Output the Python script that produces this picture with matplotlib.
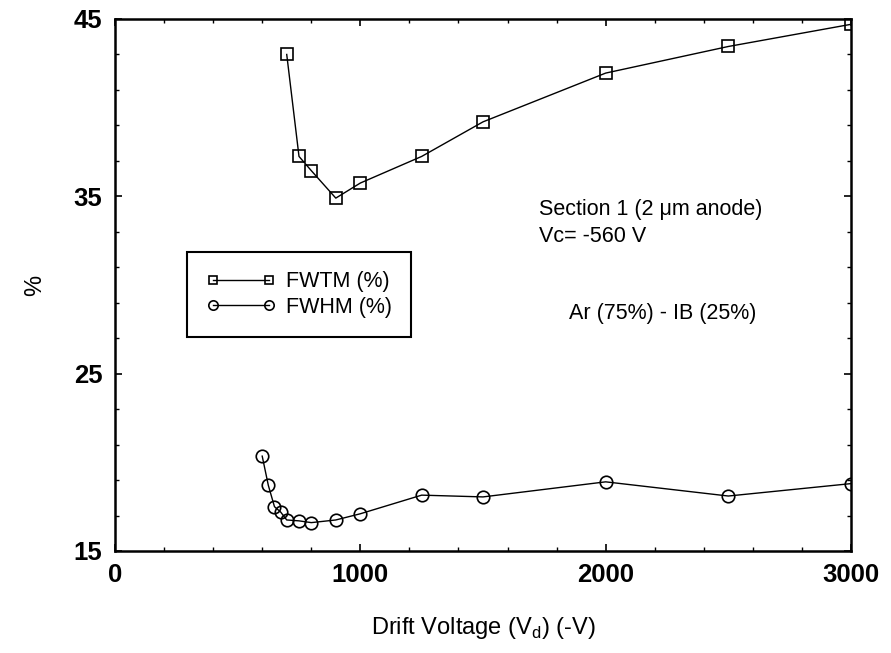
import matplotlib
matplotlib.use("Agg")
import matplotlib.pyplot as plt
from matplotlib.ticker import MultipleLocator, AutoMinorLocator

plt.rcParams['font.family'] = ['Liberation Sans', 'DejaVu Sans']

fwtm_x = [700, 750, 800, 900, 1000, 1250, 1500, 2000, 2500, 3000]
fwtm_y = [43.0, 37.25, 36.45, 34.9, 35.75, 37.25, 39.2, 41.95, 43.45, 44.7]

fwhm_x = [600, 625, 650, 675, 700, 750, 800, 900, 1000, 1250, 1500, 2000, 2500, 3000]
fwhm_y = [20.35, 18.7, 17.5, 17.2, 16.75, 16.7, 16.6, 16.75, 17.1, 18.15, 18.05, 18.9, 18.1, 18.8]

x_ticks = [0, 1000, 2000, 3000]
y_ticks = [15, 25, 35, 45]

fig = plt.figure(figsize=(8.91, 6.53), dpi=100)
ax = fig.add_axes([115/891, 1-551/653, (851-115)/891, (551-19)/653])

ax.plot(fwtm_x, fwtm_y, color='black', lw=1.0, marker='s', ms=8,
        mfc='none', mec='black', mew=1.2, label='FWTM (%)')
ax.plot(fwhm_x, fwhm_y, color='black', lw=1.0, marker='o', ms=9,
        mfc='none', mec='black', mew=1.2, label='FWHM (%)')

ax.set_xlim(0, 3000)
ax.set_ylim(15, 45)
ax.set_xticks(x_ticks)
ax.set_yticks(y_ticks)
ax.xaxis.set_minor_locator(AutoMinorLocator(5))
ax.yaxis.set_minor_locator(AutoMinorLocator(5))
ax.tick_params(which='both', direction='in', top=True, right=True)
ax.tick_params(which='major', length=5, width=1.2, labelsize=18.5, pad=9)
ax.tick_params(which='minor', length=3, width=1.0)
for lab in ax.get_xticklabels() + ax.get_yticklabels():
    lab.set_fontweight('bold')
for s in ax.spines.values():
    s.set_linewidth(1.8)

ax.set_xlabel('Drift Voltage (V$_\\mathregular{d}$) (-V)', fontsize=17, labelpad=20)
ax.set_ylabel('%', fontsize=17, labelpad=20)

ax.text(1728, 33.94, 'Section 1 (2 \u03bcm anode)', fontsize=15.5, ha='left', va='baseline')
ax.text(1728, 32.42, 'Vc= -560 V', fontsize=15.5, ha='left', va='baseline')
ax.text(1851, 28.1, 'Ar (75%) - IB (25%)', fontsize=15.5, ha='left', va='baseline')

leg = ax.legend(loc='upper left', bbox_to_anchor=((187-115)/736, (551-252)/532),
                fontsize=15.5, numpoints=2, handlelength=3.2, markerscale=0.75,
                fancybox=False, edgecolor='black', framealpha=1,
                borderpad=0.9, labelspacing=0.2, handletextpad=0.5, borderaxespad=0)
leg.get_frame().set_linewidth(1.5)

fig.savefig('out.png', dpi=100)
